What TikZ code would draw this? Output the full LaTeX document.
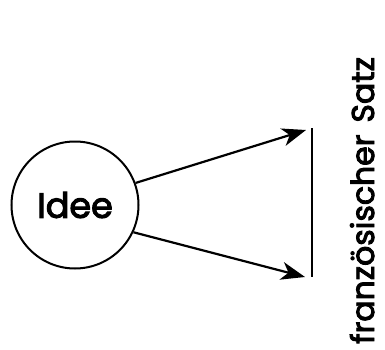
\documentclass[tikz,border=0pt]{standalone}
\usepackage{fontspec}
\setmainfont{Poppins}[FakeBold=3]
\usetikzlibrary{arrows.meta}
\begin{document}
\begin{tikzpicture}[x=1pt,y=-1pt,
  conn/.style={line width=2.2pt,-{Stealth[length=24pt,width=18pt,inset=7pt]}},
  lbl/.style={font=\fontsize{31.5}{36}\selectfont}]
\useasboundingbox (0,0) rectangle (385,350);
\node[draw,circle,line width=2pt,minimum size=127pt,inner sep=0pt,font=\fontsize{35}{38}\selectfont] (idee) at (75,205) {Idee};
\coordinate (bt) at (312,128);
\coordinate (bb) at (312,277);
\draw[line width=2.6pt] (bt) -- (bb);
\coordinate (t1) at (306,130);
\coordinate (t2) at (305,277);
\draw[conn] (idee.20) -- (t1);
\draw[conn] (idee.-25) -- (t2);
\node[lbl,rotate=90,anchor=base west,inner sep=0pt] (satz) at (374,344) {französischer\hspace{12pt}Satz};
\end{tikzpicture}
\end{document}
